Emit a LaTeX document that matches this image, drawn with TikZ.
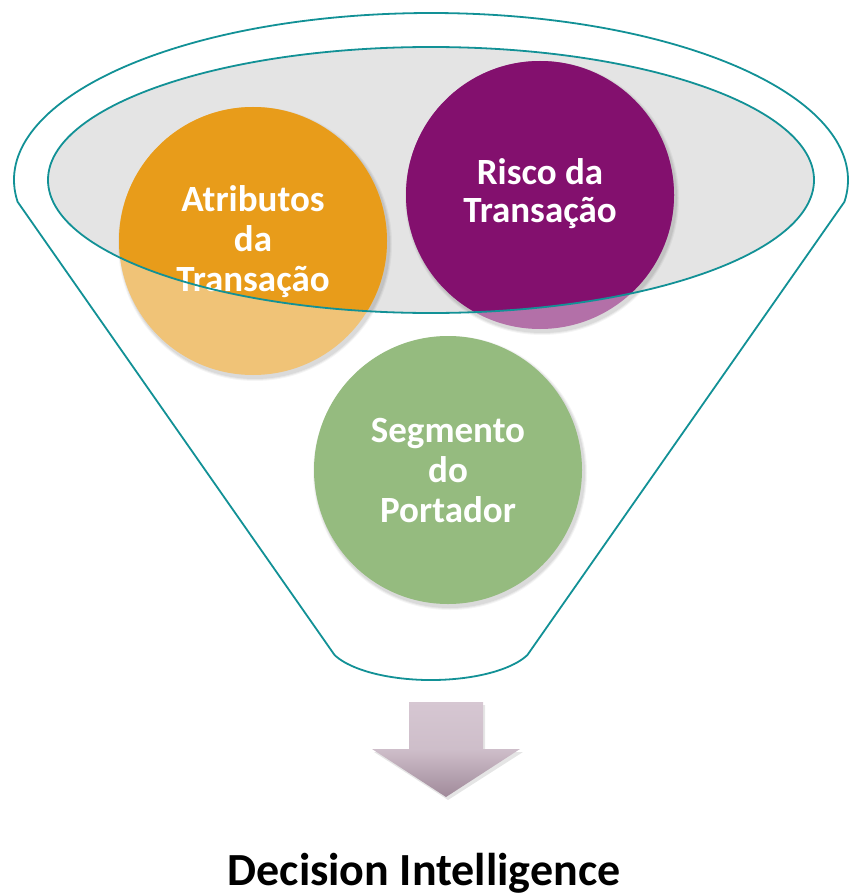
\documentclass[tikz,border=0pt]{standalone}
\usepackage{fontspec}
\setmainfont{Carlito}
\definecolor{teal2}{RGB}{18,145,150}
\definecolor{grayfill}{RGB}{228,228,228}
\definecolor{orangeD}{RGB}{232,156,26}
\definecolor{orangeL}{RGB}{240,195,119}
\definecolor{purpleD}{RGB}{131,16,110}
\definecolor{purpleL}{RGB}{179,112,168}
\definecolor{greenC}{RGB}{149,187,127}
\definecolor{arrowTop}{RGB}{214,199,210}
\definecolor{arrowBot}{RGB}{160,138,154}
\begin{document}
\begin{tikzpicture}[x=1pt,y=-1pt,
  funnelline/.style={draw=teal2,line width=1.8pt},
  circtext/.style={text=white,font=\fontsize{37}{40}\selectfont\bfseries,align=center,inner sep=0pt},
  titletext/.style={text=black,font=\fontsize{46}{55}\selectfont\bfseries,inner sep=0pt,anchor=base}]
\useasboundingbox (0,0) rectangle (848,896);
% funnel outline
\draw[funnelline,fill=white] (17.6,201.8)
  arc[start angle=172.5,end angle=367.5,x radius=417,y radius=167]
  -- (527.4,655)
  arc[start angle=22,end angle=158,x radius=104,y radius=40]
  -- cycle;
% inner ellipse fill
\fill[grayfill] (431,180) ellipse[x radius=383,y radius=133];
% shadows
\foreach \c in {(253,241),(540,195),(448,470)}{
  \foreach \r/\o in {137/0.04,136/0.05,135/0.06}{
    \fill[black,opacity=\o] \c ++(2,3) circle[radius=\r];
  }
}
% circles (light parts)
\fill[orangeL] (253,241) circle[radius=134];
\fill[purpleL] (540,195) circle[radius=134];
\fill[greenC] (448,470) circle[radius=134];
% saturated parts inside the inner ellipse
\begin{scope}
  \clip (431,180) ellipse[x radius=383,y radius=133];
  \fill[orangeD] (253,241) circle[radius=134];
  \fill[purpleD] (540,195) circle[radius=134];
\end{scope}
% texts
\node[circtext] (atr) at (253,242) {Atributos\\da\\Transação};
\node[circtext,font=\fontsize{37}{38}\selectfont\bfseries] (risco) at (540,194) {Risco da\\Transação};
\node[circtext] (seg) at (448,470) {Segmento\\do\\Portador};
% inner ellipse outline
\draw[funnelline] (431,180) ellipse[x radius=383,y radius=133];
% arrow shadow
\fill[black,opacity=0.10] (411,705) -- (485,705) -- (485,752) -- (523,752) -- (448,800) -- (374,752) -- (411,752) -- cycle;
% arrow
\shade[top color=arrowTop,bottom color=arrowBot,middle color=arrowTop!85!arrowBot]
  (409,702) -- (483,702) -- (483,749) -- (520,749) -- (446,797) -- (372,749) -- (409,749) -- cycle;
% title
\node[titletext] (title) at (424,885) {Decision Intelligence};
\end{tikzpicture}
\end{document}
